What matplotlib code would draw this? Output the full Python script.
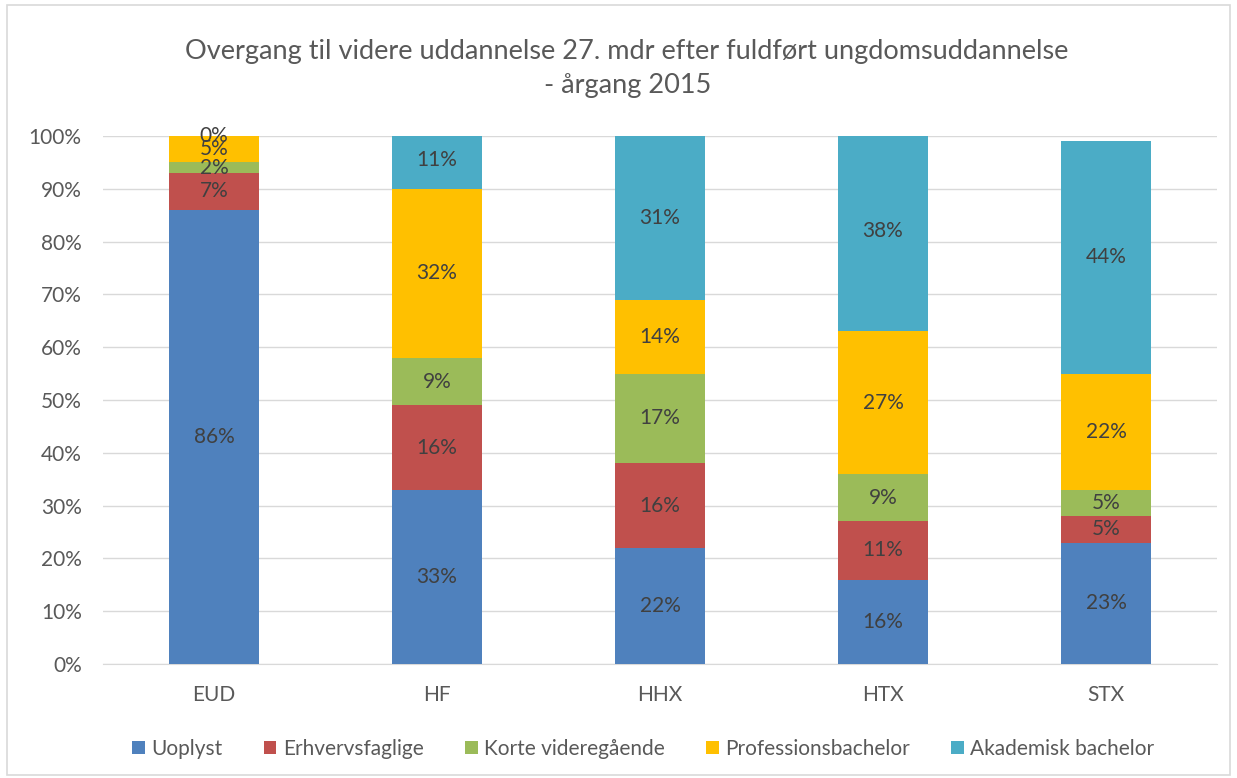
import matplotlib.pyplot as plt
from matplotlib.patches import Rectangle
import numpy as np

# categories and series (percent)
categories = ['EUD', 'HF', 'HHX', 'HTX', 'STX']
series_names = ['Uoplyst', 'Erhvervsfaglige', 'Korte videregående', 'Professionsbachelor', 'Akademisk bachelor']
uoplyst = [86, 33, 22, 16, 23]
erhvervsfaglige = [7, 16, 16, 11, 5]
korte = [2, 9, 17, 9, 5]
professionsbachelor = [5, 32, 14, 27, 22]
akademisk = [0, 11, 31, 38, 44]
colors = ['#4F81BD', '#C0504D', '#9BBB59', '#FFC000', '#4BACC6']

plt.rcParams['font.family'] = ['Lato', 'DejaVu Sans']

fig = plt.figure(figsize=(12.37, 7.78), dpi=100)
ax = fig.add_axes([0.0829, 0.1465, 0.9013, 0.6787])

# outer chart border
fig.patches.append(Rectangle((0.006, 0.004), 0.988, 0.99, transform=fig.transFigure,
                             fill=False, edgecolor='#D9D9D9', linewidth=1.2))

x = np.arange(len(categories))
bottom = np.zeros(len(categories))
all_series = [uoplyst, erhvervsfaglige, korte, professionsbachelor, akademisk]
for name, vals, col in zip(series_names, all_series, colors):
    vals = np.array(vals, dtype=float) / 100
    ax.bar(x, vals, 0.4, bottom=bottom, color=col, label=name, zorder=3)
    for xi, b, v in zip(x, bottom, vals):
        ax.text(xi, b + v / 2, f'{v * 100:.0f}%', ha='center', va='center',
                fontsize=15, color='#404040', zorder=4)
    bottom += vals

ax.set_xlim(-0.5, len(categories) - 0.5)
ax.set_ylim(0, 1)
ax.set_yticks(np.arange(0, 1.01, 0.1))
ax.set_yticklabels([f'{int(round(t * 100))}%' for t in np.arange(0, 1.01, 0.1)])
ax.set_xticks(x)
ax.set_xticklabels(categories)
ax.tick_params(axis='y', labelsize=15, labelcolor='#595959', length=0, pad=15)
ax.tick_params(axis='x', labelsize=15, labelcolor='#595959', length=0, pad=15)
ax.yaxis.grid(True, color='#D9D9D9', linewidth=1, zorder=0)
for s in ['top', 'right', 'left']:
    ax.spines[s].set_visible(False)
ax.spines['bottom'].set_color('#D9D9D9')

fig.text(0.507, 0.912, 'Overgang til videre uddannelse 27. mdr efter fuldført ungdomsuddannelse\n- årgang 2015',
         ha='center', va='center', fontsize=19.5, color='#595959', linespacing=1.45)

ax.legend(loc='center', bbox_to_anchor=(0.485, -0.16), ncol=5, frameon=False,
          fontsize=15, labelcolor='#595959', handlelength=0.6, handleheight=0.6,
          handletextpad=0.3, columnspacing=2.0)

fig.savefig('out.png', dpi=100)
